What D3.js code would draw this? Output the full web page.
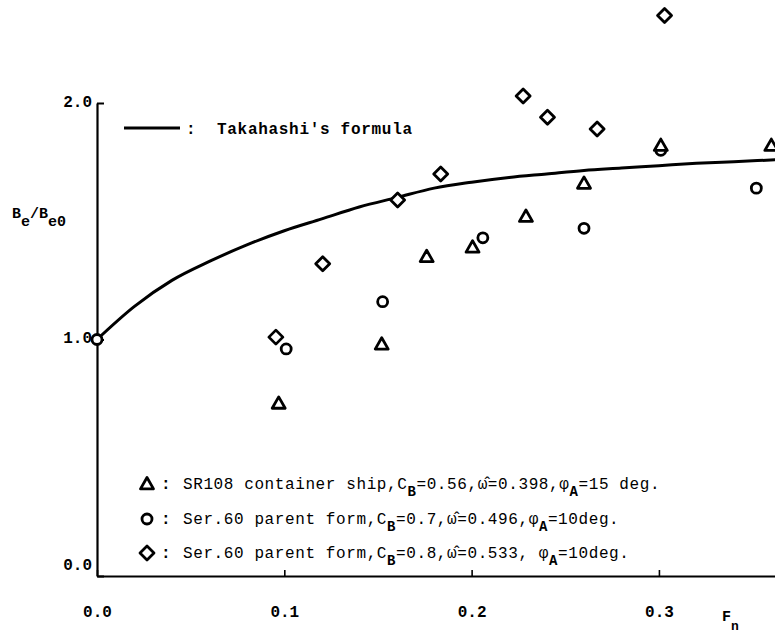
<!DOCTYPE html>
<html>
<head>
<meta charset="utf-8">
<script src="https://cdn.jsdelivr.net/npm/d3@7/dist/d3.min.js"></script>
<style>
  html, body { margin: 0; padding: 0; background: #fff; }
  svg { display: block; }
  text { font-family: "Liberation Mono", "DejaVu Sans Mono", monospace; fill: #000; }
</style>
</head>
<body>
<svg id="chart" width="775" height="633"></svg>
<script>
// ---- data ----
const xTicks = [0.0, 0.1, 0.2, 0.3];
const yTicks = [0.0, 1.0, 2.0];

// Takahashi's formula curve
const curveFn = [0.00, 0.02, 0.04, 0.06, 0.08, 0.10, 0.12, 0.14, 0.16, 0.18, 0.20, 0.22, 0.24, 0.26, 0.28, 0.30, 0.32, 0.34, 0.3625];
const curveVal = [1.00, 1.14, 1.25, 1.33, 1.40, 1.46, 1.51, 1.56, 1.60, 1.64, 1.665, 1.685, 1.70, 1.715, 1.725, 1.735, 1.745, 1.752, 1.76];

// SR108 container ship (triangles)
const triFn  = [0.097, 0.152, 0.176, 0.2005, 0.229, 0.260, 0.301, 0.360];
const triVal = [0.73,  0.98,  1.35,  1.39,   1.52,  1.66,  1.82,  1.82];

// Ser.60 CB=0.7 (circles)
const cirFn  = [0.000, 0.101, 0.1525, 0.206, 0.260, 0.301, 0.352];
const cirVal = [1.00,  0.96,  1.16,   1.43,  1.47,  1.80,  1.64];

// Ser.60 CB=0.8 (diamonds)
const diaFn  = [0.0955, 0.1205, 0.1605, 0.1835, 0.2275, 0.2405, 0.267, 0.303];
const diaVal = [1.01,   1.32,   1.59,   1.70,   2.03,   1.94,   1.89,  2.37];

const legendRows = [
  {shape: "tri", parts: [["SR108 container ship,C",0],["B",1],["=0.56,ω̂=0.398,φ",0],["A",1],["=15 deg.",0]]},
  {shape: "cir", parts: [["Ser.60 parent form,C",0],["B",1],["=0.7,ω̂=0.496,φ",0],["A",1],["=10deg.",0]]},
  {shape: "dia", parts: [["Ser.60 parent form,C",0],["B",1],["=0.8,ω̂=0.533, φ",0],["A",1],["=10deg.",0]]}
];

// ---- drawing ----
const svg = d3.select("#chart");
const x = d3.scaleLinear().domain([0, 0.3625]).range([97, 776]);
const y = d3.scaleLinear().domain([0, 2]).range([576, 103]);

const fs = 16;

// x axis
const xAxis = d3.axisBottom(x).tickValues(xTicks).tickFormat(d3.format(".1f"))
  .tickSizeInner(-6).tickSizeOuter(0).tickPadding(30);
const gx = svg.append("g").attr("transform", `translate(0,${y(0)})`).call(xAxis);
gx.select(".domain").attr("stroke-width", 2.2);
gx.selectAll(".tick line").attr("stroke-width", 1.6);
gx.selectAll(".tick text").style("font-size", fs + "px").style("font-weight", "bold")
  .style("font-family", "Liberation Mono, monospace");

// y axis
const yAxis = d3.axisLeft(y).tickValues(yTicks).tickFormat(d3.format(".1f"))
  .tickSizeInner(-7).tickSizeOuter(0).tickPadding(5);
const gy = svg.append("g").attr("transform", `translate(${x(0)},0)`).call(yAxis);
gy.select(".domain").attr("stroke-width", 2.2);
gy.selectAll(".tick line").attr("stroke-width", 2);
gy.selectAll(".tick text").style("font-size", fs + "px").style("font-weight", "bold")
  .style("font-family", "Liberation Mono, monospace")
  .attr("dy", (d) => d === 0 ? "-0.4em" : "0.2em");

// y label B_e/B_e0
const yl = svg.append("text").attr("x", 12).attr("y", 218)
  .style("font-size", "15px").style("font-weight", "bold");
yl.append("tspan").text("B");
yl.append("tspan").attr("dy", 8).text("e");
yl.append("tspan").attr("dy", -8).text("/B");
yl.append("tspan").attr("dy", 8).text("e0");

// x label F_n
const xl = svg.append("text").attr("x", 722).attr("y", 621)
  .style("font-size", "15px").style("font-weight", "bold");
xl.append("tspan").text("F");
xl.append("tspan").attr("dy", 9).style("font-size", "13px").text("n");

// curve
const curveData = curveFn.map((f, i) => [f, curveVal[i]]);
svg.append("path").datum(curveData)
  .attr("fill", "none").attr("stroke", "#000").attr("stroke-width", 3)
  .attr("d", d3.line().x(d => x(d[0])).y(d => y(d[1])).curve(d3.curveMonotoneX));

// markers
const sw = 2.8;
function drawTri(g, cx, cy) {
  const s = 6.5;
  g.append("path").attr("d", `M${cx},${cy - s}L${cx + s},${cy + s * 0.75}L${cx - s},${cy + s * 0.75}Z`)
    .attr("fill", "#fff").attr("stroke", "#000").attr("stroke-width", sw).attr("stroke-linejoin", "round");
}
function drawCir(g, cx, cy) {
  g.append("circle").attr("cx", cx).attr("cy", cy).attr("r", 5)
    .attr("fill", "#fff").attr("stroke", "#000").attr("stroke-width", sw);
}
function drawDia(g, cx, cy) {
  const s = 7;
  g.append("path").attr("d", `M${cx},${cy - s}L${cx + s},${cy}L${cx},${cy + s}L${cx - s},${cy}Z`)
    .attr("fill", "#fff").attr("stroke", "#000").attr("stroke-width", sw).attr("stroke-linejoin", "round");
}
const gm = svg.append("g");
diaFn.forEach((f, i) => drawDia(gm, x(f), y(diaVal[i])));
cirFn.forEach((f, i) => drawCir(gm, x(f), y(cirVal[i])));
triFn.forEach((f, i) => drawTri(gm, x(f), y(triVal[i])));

// legend: curve
svg.append("line").attr("x1", 124).attr("x2", 180).attr("y1", 128).attr("y2", 128)
  .attr("stroke", "#000").attr("stroke-width", 3);
svg.append("text").attr("x", 186).attr("y", 134).style("font-size", fs + "px").style("font-weight", "bold").text(":");
svg.append("text").attr("x", 217).attr("y", 134).style("font-size", fs + "px").style("font-weight", "bold")
  .style("letter-spacing", "0.7px").text("Takahashi's formula");

// legend: markers
const rowY = [484, 519, 553];
legendRows.forEach((r, i) => {
  const cy = rowY[i];
  const g = svg.append("g");
  if (r.shape === "tri") drawTri(g, 147, cy);
  if (r.shape === "cir") drawCir(g, 147, cy);
  if (r.shape === "dia") drawDia(g, 147, cy);
  g.append("text").attr("x", 161).attr("y", cy + 5).style("font-size", fs + "px").style("font-weight", "bold").text(":");
  const t = g.append("text").attr("x", 183).attr("y", cy + 5).style("font-size", fs + "px")
    .style("letter-spacing", "0.6px");
  let sub = false;
  r.parts.forEach(([s, isSub]) => {
    const ts = t.append("tspan").text(s);
    if (isSub && !sub) { ts.attr("dy", 7).style("font-size", "14px").style("font-weight", "bold"); sub = true; }
    else if (!isSub && sub) { ts.attr("dy", -7); sub = false; }
  });
});
</script>
</body>
</html>
